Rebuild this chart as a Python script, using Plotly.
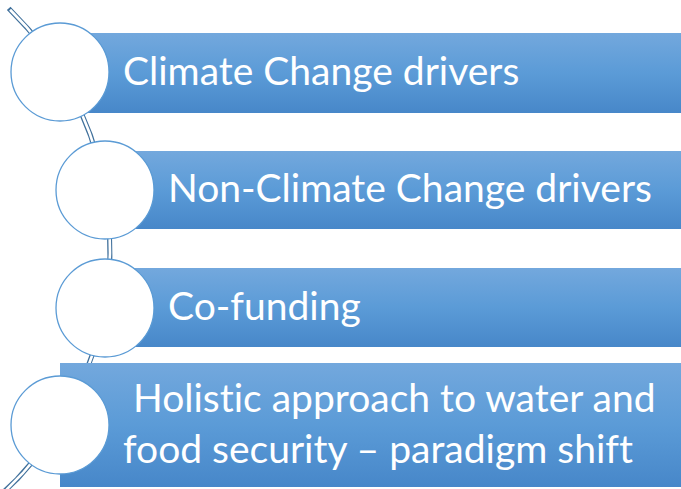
import numpy as np
import plotly.graph_objects as go

W, H = 681, 489

labels = [
    "Climate Change drivers",
    "Non-Climate Change drivers",
    "Co-funding",
    " Holistic approach to water and<br>food security \u2013 paradigm shift",
]
# layout of the diagram (pixel space)
circle_cx = [60, 105, 105, 60]
circle_cy = [72, 190, 308, 425]
circle_r = 49
bar_top = [33, 151, 268, 363]
bar_bot = [113, 229, 347, 487]
text_x = [121, 166, 166, 121]

fig = go.Figure()

# connecting arc (double line)
arc_cx, arc_cy, arc_R = -224, 248, 334
t = np.linspace(-0.80, 0.9, 300)
ax_ = arc_cx + arc_R * np.cos(t)
ay_ = arc_cy + arc_R * np.sin(t)
fig.add_trace(go.Scatter(x=ax_, y=ay_, mode="lines",
                         line=dict(color="#41719C", width=5), hoverinfo="skip", showlegend=False))
fig.add_trace(go.Scatter(x=ax_[1:], y=ay_[1:], mode="lines",
                         line=dict(color="#FFFFFF", width=2.6), hoverinfo="skip", showlegend=False))

# gradient bars
for i in range(4):
    x0, x1 = circle_cx[i], W + 2
    y0, y1 = bar_top[i], bar_bot[i]
    fig.add_trace(go.Scatter(
        x=[x0, x1, x1, x0, x0], y=[y0, y0, y1, y1, y0],
        mode="lines", fill="toself", line=dict(width=0, color="rgba(0,0,0,0)"),
        fillgradient=dict(type="vertical", start=y0, stop=y1,
                          colorscale=[[0, "#73A8DD"], [0.5, "#5B9BD7"], [1, "#4787C9"]]),
        hoverinfo="skip", showlegend=False))

shapes = []
for i in range(4):
    shapes.append(dict(type="circle", xref="x", yref="y", layer="above",
                       x0=circle_cx[i] - circle_r, x1=circle_cx[i] + circle_r,
                       y0=circle_cy[i] - circle_r, y1=circle_cy[i] + circle_r,
                       fillcolor="white", line=dict(color="#5B9BD5", width=1.3)))

annotations = []
for i in range(4):
    annotations.append(dict(x=text_x[i], y=(bar_top[i] + bar_bot[i]) / 2 - 3,
                            xref="x", yref="y", xanchor="left", yanchor="middle",
                            text=labels[i], showarrow=False, align="left",
                            font=dict(family="Lato, Carlito, Calibri, sans-serif", size=39, color="white")))

fig.update_layout(
    width=W, height=H, margin=dict(l=0, r=0, t=0, b=0),
    paper_bgcolor="white", plot_bgcolor="white",
    xaxis=dict(range=[0, W], visible=False, fixedrange=True),
    yaxis=dict(range=[H, 0], visible=False, fixedrange=True),
    shapes=shapes, annotations=annotations, showlegend=False,
)
post = (
    "document.body.style.margin='0';"
    "var s=document.createElement('style');"
    "s.textContent='text{font-variant-ligatures:none;font-feature-settings:\"liga\" 0,\"clig\" 0;}';"
    "document.head.appendChild(s);"
)
fig.write_html("out.html", config={"displayModeBar": False}, post_script=post)
